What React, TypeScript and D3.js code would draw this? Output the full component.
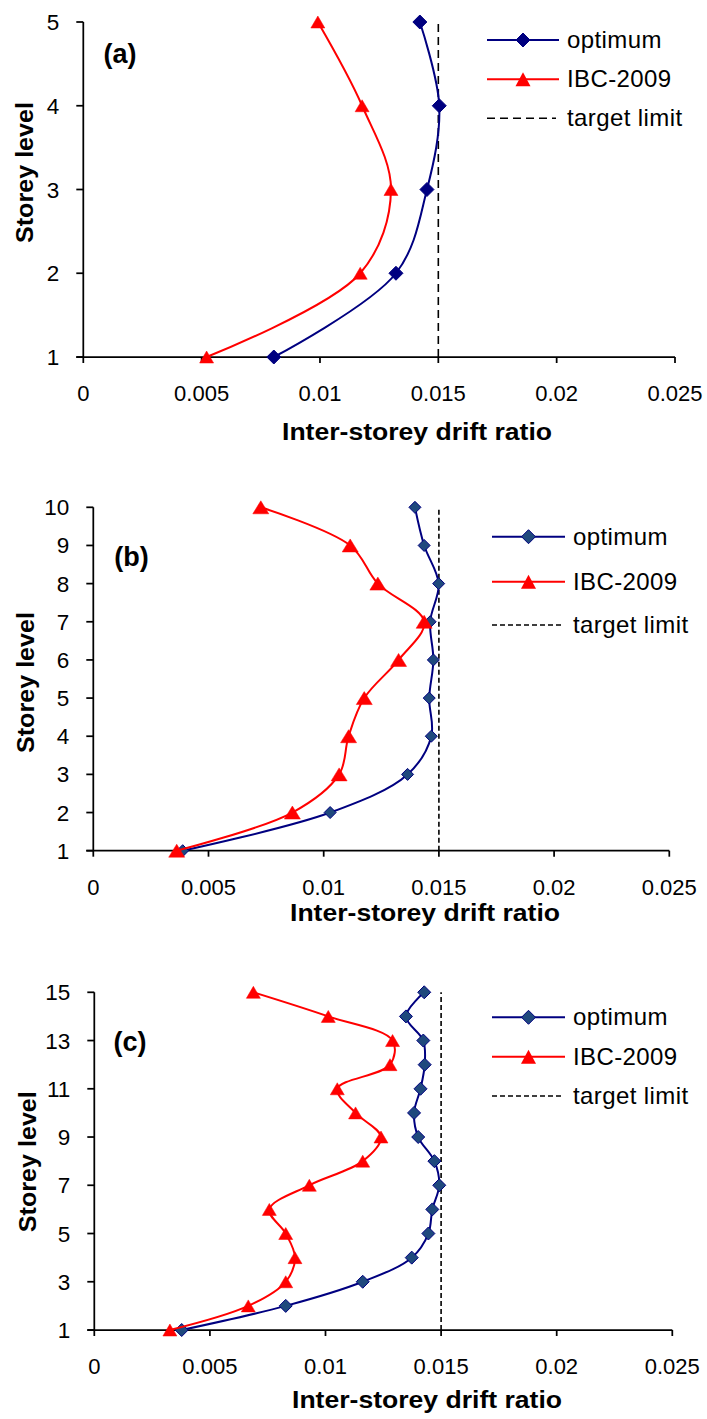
import React from "react";
import * as d3 from "d3";

// ---------- data ----------
const xTicks = [0, 0.005, 0.01, 0.015, 0.02, 0.025];
const xTickLabels = ["0", "0.005", "0.01", "0.015", "0.02", "0.025"];
const targetLimit = 0.015;
const seriesNames = ["optimum", "IBC-2009", "target limit"];
const panelLabels = ["(a)", "(b)", "(c)"];
const xTitle = "Inter-storey drift ratio";
const yTitle = "Storey level";

const levelsA = [1, 2, 3, 4, 5];
const optimumA = [0.00805, 0.01321, 0.01452, 0.01504, 0.01422];
const ibcA = [0.00521, 0.0117, 0.013, 0.01178, 0.00991];
const yTicksA = [1, 2, 3, 4, 5];

const levelsB = [1, 2, 3, 4, 5, 6, 7, 8, 9, 10];
const optimumB = [0.00388, 0.01028, 0.01364, 0.01467, 0.01458, 0.01476, 0.01462, 0.01499, 0.01436, 0.01396];
const ibcB = [0.00362, 0.00864, 0.01067, 0.01108, 0.01176, 0.01325, 0.01436, 0.01235, 0.01115, 0.00727];
const yTicksB = [1, 2, 3, 4, 5, 6, 7, 8, 9, 10];

const levelsC = [1, 2, 3, 4, 5, 6, 7, 8, 9, 10, 11, 12, 13, 14, 15];
const optimumC = [0.00378, 0.00828, 0.01161, 0.01373, 0.01445, 0.01462, 0.01492, 0.01471, 0.01401, 0.01383, 0.01411, 0.01429, 0.01423, 0.01348, 0.01427];
const ibcC = [0.00327, 0.00666, 0.00828, 0.00868, 0.00828, 0.00757, 0.0093, 0.01161, 0.0124, 0.0113, 0.01051, 0.01279, 0.0129, 0.01012, 0.00688];
const yTicksC = [1, 3, 5, 7, 9, 11, 13, 15];

// ---------- layout ----------
const W = 707;
const H = 1419;
const NAVY = "#000080";
const RED = "#FF0000";
const FONT = "'Liberation Sans', Arial, sans-serif";

type Panel = {
  levels: number[];
  opt: number[];
  ibc: number[];
  yTicks: number[];
  label: string;
  left: number; right: number; top: number; bottom: number;
  diamondFill: string; diamondR: number; triW: number; triH: number;
  dash: string;
  legendX0: number; legendX1: number; legendTextX: number; legendRows: number[];
  labelX: number; labelY: number;
  yTitleX: number; yTitleY: number;
  xTitleX: number; xTitleY: number;
};

const panels: Panel[] = [
  {
    levels: levelsA, opt: optimumA, ibc: ibcA, yTicks: yTicksA, label: panelLabels[0],
    left: 83.3, right: 675, top: 22, bottom: 357,
    diamondFill: NAVY, diamondR: 7, triW: 14, triH: 12, dash: "8,5",
    legendX0: 487, legendX1: 559, legendTextX: 567, legendRows: [40, 79.3, 118.3],
    labelX: 120, labelY: 53,
    yTitleX: 33, yTitleY: 172.5,
    xTitleX: 417, xTitleY: 440,
  },
  {
    levels: levelsB, opt: optimumB, ibc: ibcB, yTicks: yTicksB, label: panelLabels[1],
    left: 93.3, right: 669.3, top: 507.3, bottom: 850.7,
    diamondFill: "#1F497D", diamondR: 6, triW: 16, triH: 13, dash: "5,3",
    legendX0: 492, legendX1: 565, legendTextX: 573, legendRows: [536.7, 581.7, 625],
    labelX: 131.5, labelY: 556.5,
    yTitleX: 34, yTitleY: 682.5,
    xTitleX: 425, xTitleY: 921,
  },
  {
    levels: levelsC, opt: optimumC, ibc: ibcC, yTicks: yTicksC, label: panelLabels[2],
    left: 94.3, right: 672.3, top: 992.3, bottom: 1330,
    diamondFill: "#1F497D", diamondR: 6.5, triW: 14, triH: 12, dash: "5,3",
    legendX0: 492, legendX1: 565, legendTextX: 573, legendRows: [1017.3, 1056.7, 1096],
    labelX: 130, labelY: 1041,
    yTitleX: 36, yTitleY: 1161.7,
    xTitleX: 427, xTitleY: 1408,
  },
];

function diamondPath(cx: number, cy: number, r: number) {
  return `M${cx},${cy - r}L${cx + r},${cy}L${cx},${cy + r}L${cx - r},${cy}Z`;
}
function trianglePath(cx: number, cy: number, w: number, h: number) {
  return `M${cx},${cy - h / 2}L${cx + w / 2},${cy + h / 2}L${cx - w / 2},${cy + h / 2}Z`;
}

function PanelChart({ p }: { p: Panel }) {
  const x = d3.scaleLinear().domain([0, 0.025]).range([p.left, p.right]);
  const yMax = p.levels[p.levels.length - 1];
  const y = d3.scaleLinear().domain([1, yMax]).range([p.bottom, p.top]);
  const line = d3
    .line<[number, number]>()
    .x((d) => x(d[0]))
    .y((d) => y(d[1]))
    .curve(d3.curveCatmullRom.alpha(0.5));
  const optPts: [number, number][] = p.opt.map((v, i) => [v, p.levels[i]]);
  const ibcPts: [number, number][] = p.ibc.map((v, i) => [v, p.levels[i]]);
  const limitPts: [number, number][] = [[targetLimit, 1], [targetLimit, yMax]];
  const axisW = 1.75;

  return (
    <g>
      {/* target limit */}
      <path
        d={d3.line<[number, number]>().x((d) => x(d[0])).y((d) => y(d[1]))(limitPts) || ""}
        stroke="#000"
        strokeWidth={1.6}
        strokeDasharray={p.dash}
        fill="none"
      />
      {/* axes */}
      <line x1={p.left} x2={p.left} y1={y(yMax)} y2={y(1)} stroke="#000" strokeWidth={axisW} />
      <line x1={p.left - 7} x2={p.right} y1={y(1)} y2={y(1)} stroke="#000" strokeWidth={axisW} />
      {p.yTicks.map((t) => (
        <g key={"yt" + t}>
          <line x1={p.left - 7} x2={p.left} y1={y(t)} y2={y(t)} stroke="#000" strokeWidth={axisW} />
          <text
            x={p.left - 24}
            y={y(t) + 8}
            textAnchor="end"
            fontFamily={FONT}
            fontSize={22.5}
            fill="#000"
          >
            {t}
          </text>
        </g>
      ))}
      {xTicks.map((t, i) => (
        <g key={"xt" + t}>
          <line x1={x(t)} x2={x(t)} y1={y(1)} y2={y(1) + 6} stroke="#000" strokeWidth={axisW} />
          <text
            x={x(t)}
            y={y(1) + 44}
            textAnchor="middle"
            fontFamily={FONT}
            fontSize={22}
            fill="#000"
          >
            {xTickLabels[i]}
          </text>
        </g>
      ))}
      {/* series */}
      <path d={line(optPts) || ""} stroke={NAVY} strokeWidth={2} fill="none" />
      {optPts.map((d, i) => (
        <path
          key={"o" + i}
          d={diamondPath(x(d[0]), y(d[1]), p.diamondR)}
          fill={p.diamondFill}
          stroke={NAVY}
          strokeWidth={1}
        />
      ))}
      <path d={line(ibcPts) || ""} stroke={RED} strokeWidth={2} fill="none" />
      {ibcPts.map((d, i) => (
        <path key={"r" + i} d={trianglePath(x(d[0]), y(d[1]), p.triW, p.triH)} fill={RED} stroke={RED} strokeWidth={0.5} />
      ))}
      {/* panel label */}
      <text
        x={p.labelX}
        y={p.labelY + 9.5}
        textAnchor="middle"
        fontFamily={FONT}
        fontWeight="bold"
        fontSize={27}
        fill="#000"
      >
        {p.label}
      </text>
      {/* axis titles */}
      <text
        x={p.xTitleX}
        y={p.xTitleY}
        textAnchor="middle"
        fontFamily={FONT}
        fontWeight="bold"
        fontSize={23}
        textLength={270}
        lengthAdjust="spacingAndGlyphs"
        fill="#000"
      >
        {xTitle}
      </text>
      <text
        transform={`translate(${p.yTitleX},${p.yTitleY}) rotate(-90)`}
        textAnchor="middle"
        fontFamily={FONT}
        fontWeight="bold"
        fontSize={23}
        textLength={141}
        lengthAdjust="spacingAndGlyphs"
        fill="#000"
      >
        {yTitle}
      </text>
      {/* legend */}
      {seriesNames.map((name, i) => {
        const ry = p.legendRows[i];
        const mx = (p.legendX0 + p.legendX1) / 2;
        return (
          <g key={"lg" + i}>
            {i === 0 && (
              <>
                <line x1={p.legendX0} x2={p.legendX1} y1={ry} y2={ry} stroke={NAVY} strokeWidth={2} />
                <path d={diamondPath(mx, ry, 7)} fill={p.diamondFill} stroke={NAVY} strokeWidth={1} />
              </>
            )}
            {i === 1 && (
              <>
                <line x1={p.legendX0} x2={p.legendX1} y1={ry} y2={ry} stroke={RED} strokeWidth={2} />
                <path d={trianglePath(mx, ry, 15, 14)} fill={RED} />
              </>
            )}
            {i === 2 && (
              <line
                x1={p.legendX0}
                x2={p.legendX1 - 3}
                y1={ry}
                y2={ry}
                stroke="#000"
                strokeWidth={1.6}
                strokeDasharray={p.dash}
              />
            )}
            <text x={p.legendTextX} y={ry + 8} fontFamily={FONT} fontSize={24} fill="#000" letterSpacing={0.4}>
              {name}
            </text>
          </g>
        );
      })}
    </g>
  );
}

export default function App() {
  return (
    <svg
      width={W}
      height={H}
      viewBox={`0 0 ${W} ${H}`}
      style={{ position: "absolute", left: 0, top: 0, background: "#fff" }}
    >
      <rect x={0} y={0} width={W} height={H} fill="#fff" />
      {panels.map((p, i) => (
        <PanelChart key={i} p={p} />
      ))}
    </svg>
  );
}
